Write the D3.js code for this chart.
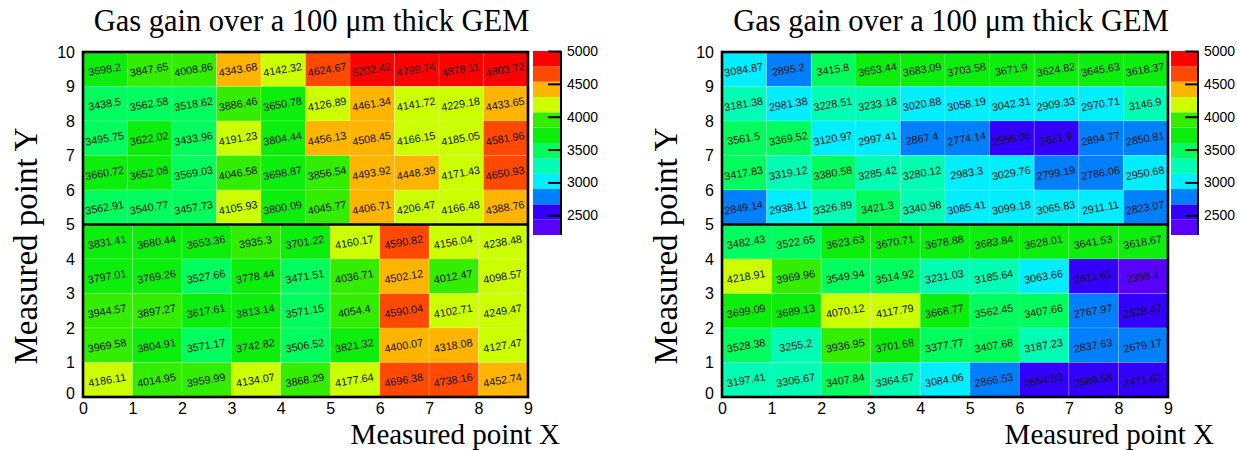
<!DOCTYPE html>
<html><head><meta charset="utf-8">
<script src="https://cdn.jsdelivr.net/npm/d3@7"></script>
<style>body{margin:0;background:#fff;} svg{display:block}</style>
</head><body>
<svg id="chart" width="1237" height="450"></svg>
<script>
// ---------------- data ----------------
const titleText = "Gas gain over a 100 \u03bcm thick GEM";
const xTitle = "Measured point X";
const yTitle = "Measured point Y";
const xTickValues = [0,1,2,3,4,5,6,7,8,9];
const yTickValues = [0,1,2,3,4,5,6,7,8,9,10];
const zTickValues = [2500,3000,3500,4000,4500,5000];
const zRange = [2200, 5000];
const levelColors = ["#5a00ff","#3300ff","#0080ff","#00eeff","#00ffb4","#00ff5e",
                     "#0cef0c","#33ee00","#ccff00","#ffb400","#ff4800","#ff0000"];

// upper half (y 5..10), 10 columns over x 0..9; rows listed from top (y 9-10) downward
const leftTop = [
  [3698.2, 3847.65, 4008.86, 4343.68, 4142.32, 4624.67, 5202.42, 4799.74, 4878.11, 4803.72],
  [3438.5, 3562.58, 3518.62, 3886.46, 3650.78, 4126.89, 4461.34, 4141.72, 4229.18, 4433.65],
  [3495.75, 3622.02, 3433.96, 4191.23, 3804.44, 4456.13, 4508.45, 4166.15, 4185.05, 4581.96],
  [3660.72, 3652.08, 3569.03, 4046.58, 3698.87, 3856.54, 4493.92, 4448.39, 4171.43, 4650.93],
  [3562.91, 3540.77, 3457.73, 4105.93, 3800.09, 4045.77, 4406.71, 4206.47, 4166.48, 4388.76]
];
// lower half (y 0..5), 9 columns over x 0..9; rows listed from top (y 4-5) downward
const leftBottom = [
  [3831.41, 3680.44, 3653.36, 3935.3, 3701.22, 4160.17, 4590.82, 4156.04, 4238.48],
  [3797.01, 3769.26, 3527.66, 3778.44, 3471.51, 4036.71, 4502.12, 4012.47, 4098.57],
  [3944.57, 3897.27, 3617.61, 3813.14, 3571.15, 4054.4, 4590.04, 4102.71, 4249.47],
  [3969.58, 3804.91, 3571.17, 3742.82, 3506.52, 3821.32, 4400.07, 4318.08, 4127.47],
  [4186.11, 4014.95, 3959.99, 4134.07, 3868.29, 4177.64, 4696.38, 4738.16, 4452.74]
];
const rightTop = [
  [3084.87, 2895.2, 3415.8, 3653.44, 3683.09, 3703.58, 3671.9, 3624.82, 3645.63, 3618.37],
  [3181.38, 2981.38, 3228.51, 3233.18, 3020.88, 3058.19, 3042.31, 2909.33, 2970.71, 3146.9],
  [3561.5, 3369.52, 3120.97, 2997.41, 2867.4, 2774.14, 2556.06, 2621.9, 2894.77, 2850.81],
  [3417.83, 3319.12, 3380.58, 3285.42, 3280.12, 2983.3, 3029.76, 2799.19, 2786.06, 2950.68],
  [2849.14, 2938.11, 3326.89, 3421.3, 3340.98, 3085.41, 3099.18, 3065.83, 2911.11, 2823.07]
];
const rightBottom = [
  [3482.43, 3522.65, 3623.63, 3670.71, 3678.88, 3683.84, 3628.01, 3641.53, 3618.67],
  [4218.91, 3969.96, 3549.94, 3514.92, 3231.03, 3185.64, 3063.66, 2611.61, 2398.1],
  [3699.09, 3689.13, 4070.12, 4117.79, 3668.77, 3562.45, 3407.66, 2767.97, 2528.47],
  [3528.38, 3255.2, 3936.95, 3701.68, 3377.77, 3407.68, 3187.23, 2837.63, 2679.17],
  [3197.41, 3306.67, 3407.84, 3364.67, 3084.06, 2866.53, 2654.53, 2589.58, 2471.62]
];

// ---------------- drawing ----------------
const svg = d3.select("#chart");
const nLevels = levelColors.length;
const step = (zRange[1]-zRange[0])/nLevels;
const thresholds = d3.range(1, nLevels).map(k => zRange[0] + k*step);
const color = d3.scaleThreshold().domain(thresholds).range(levelColors);

const panels = [
  {x0:83, x1:528, top:leftTop, bottom:leftBottom, cbX:533, cbW:28, xTitleRight:560, yTitleX:37},
  {x0:722, x1:1168, top:rightTop, bottom:rightBottom, cbX:1171, cbW:27, xTitleRight:1214, yTitleX:677}
];
const plotTop = 52, plotBottom = 397;
const sans = "'Liberation Sans', Arial, Helvetica, sans-serif";
const serif = "'Liberation Serif', 'Times New Roman', serif";

panels.forEach(p => {
  const g = svg.append("g");
  const x = d3.scaleLinear().domain([0, 9]).range([p.x0, p.x1]);
  const y = d3.scaleLinear().domain([0, 10]).range([plotBottom, plotTop]);

  const cells = [];
  p.top.forEach((row, r) => {
    const w = 9/row.length;
    row.forEach((v, c) => cells.push({v, xa:c*w, xb:(c+1)*w, ya:9-r, yb:10-r}));
  });
  p.bottom.forEach((row, r) => {
    const w = 9/row.length;
    row.forEach((v, c) => cells.push({v, xa:c*w, xb:(c+1)*w, ya:4-r, yb:5-r}));
  });

  g.selectAll("rect.cell").data(cells).join("rect")
    .attr("class","cell")
    .attr("x", d => x(d.xa)).attr("y", d => y(d.yb))
    .attr("width", d => x(d.xb)-x(d.xa)).attr("height", d => y(d.ya)-y(d.yb))
    .attr("fill", d => color(d.v))
    .attr("stroke","rgba(255,255,255,0.22)").attr("stroke-width",0.8);

  g.selectAll("text.val").data(cells).join("text")
    .attr("class","val")
    .attr("transform", d => `translate(${(x(d.xa)+x(d.xb))/2},${(y(d.ya)+y(d.yb))/2+4}) rotate(-10)`)
    .attr("text-anchor","middle")
    .attr("font-family", sans).attr("font-size", 10.8).attr("fill","#111")
    .text(d => d.v);

  // frame and middle separator
  g.append("rect").attr("x", x(0)).attr("y", y(10))
    .attr("width", x(9)-x(0)).attr("height", y(0)-y(10))
    .attr("fill","none").attr("stroke","#000").attr("stroke-width",2.6);
  g.append("line").attr("x1", x(0)).attr("x2", x(9)).attr("y1", y(5)).attr("y2", y(5))
    .attr("stroke","#000").attr("stroke-width",2.6);

  // axes
  const xa = g.append("g").attr("transform", `translate(0,${plotBottom})`)
    .call(d3.axisBottom(x).tickValues(xTickValues).tickSize(0).tickPadding(5.5).tickFormat(d3.format("d")));
  xa.select(".domain").remove();
  xa.selectAll("text").attr("font-family", sans).attr("font-size", 16).attr("fill","#000");

  const ya = g.append("g").attr("transform", `translate(${p.x0},0)`)
    .call(d3.axisLeft(y).tickValues(yTickValues).tickSize(0).tickPadding(8).tickFormat(d3.format("d")));
  ya.select(".domain").remove();
  ya.selectAll("text").attr("font-family", sans).attr("font-size", 16).attr("fill","#000")
    .attr("dy", d => d === 0 ? "0.1em" : "0.32em");

  // titles
  g.append("text").attr("x", (p.x0+p.x1)/2 + 6).attr("y", 31)
    .attr("text-anchor","middle").attr("font-family", serif).attr("font-size", 30.5)
    .attr("fill","#000").text(titleText);
  g.append("text").attr("x", p.xTitleRight).attr("y", 443.5)
    .attr("text-anchor","end").attr("font-family", serif).attr("font-size", 29)
    .attr("fill","#000").text(xTitle);
  g.append("text").attr("transform", `translate(${p.yTitleX},246) rotate(-90)`)
    .attr("text-anchor","middle").attr("font-family", serif).attr("font-size", 33)
    .attr("fill","#000").text(yTitle);

  // colour bar
  const z = d3.scaleLinear().domain(zRange).range([235, 51]);
  const bands = levelColors.map((c, k) => ({c, lo: zRange[0]+k*step, hi: zRange[0]+(k+1)*step}));
  g.selectAll("rect.band").data(bands).join("rect").attr("class","band")
    .attr("x", p.cbX).attr("width", p.cbW)
    .attr("y", d => z(d.hi)).attr("height", d => z(d.lo)-z(d.hi))
    .attr("fill", d => d.c);
  const za = g.append("g").attr("transform", `translate(${p.cbX+p.cbW},0)`)
    .call(d3.axisRight(z).tickValues(zTickValues).tickSize(-13).tickPadding(6).tickFormat(d3.format("d")));
  za.select(".domain").attr("stroke","#000").attr("stroke-width",2).attr("d", `M0,${z(zRange[1])}V${z(zRange[0])}`);
  za.selectAll(".tick line").attr("stroke","#000").attr("stroke-width",2);
  za.selectAll("text").attr("font-family", sans).attr("font-size", 14).attr("fill","#000");
});
</script>
</body></html>
